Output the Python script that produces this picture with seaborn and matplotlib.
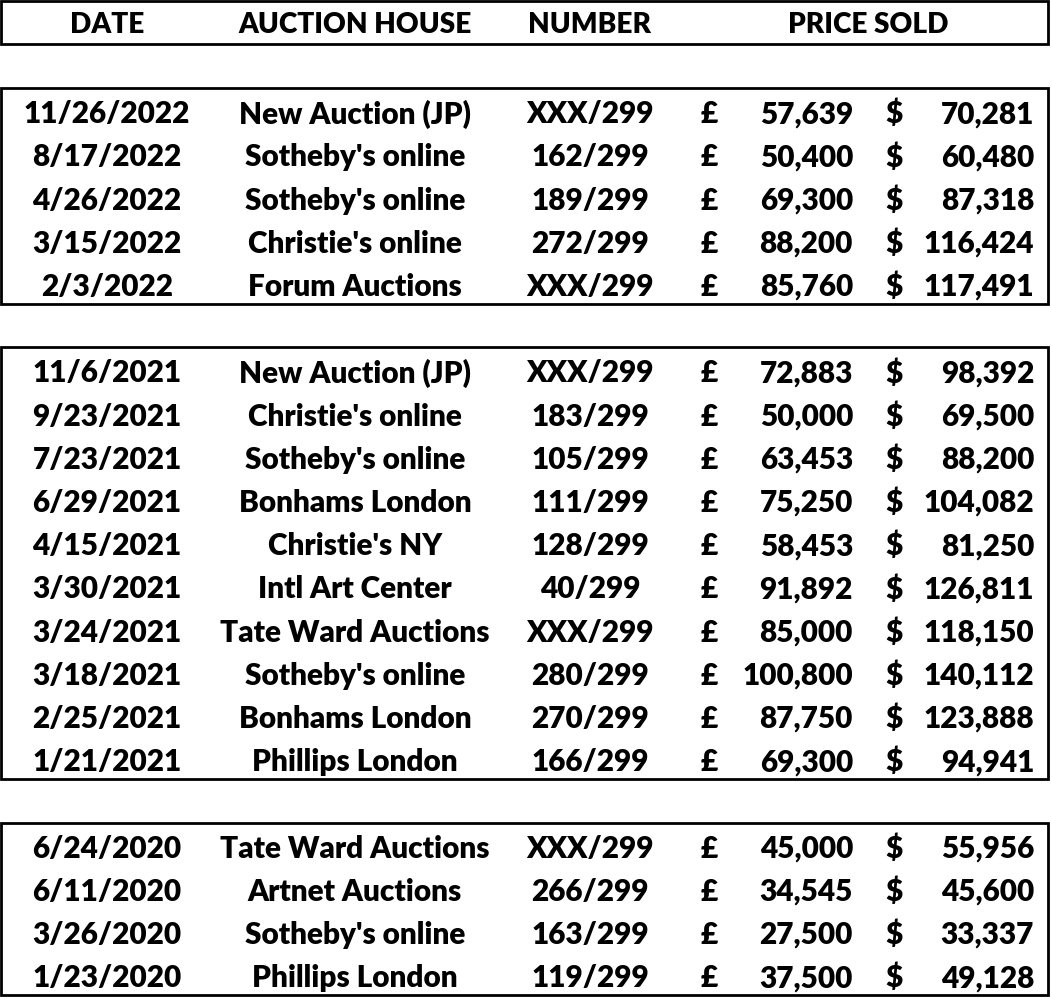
import matplotlib
matplotlib.use("Agg")
import matplotlib.pyplot as plt
import seaborn as sns
import pandas as pd
from matplotlib.patches import Rectangle

# table data, newest first, grouped by year
dates = ["11/26/2022", "8/17/2022", "4/26/2022", "3/15/2022", "2/3/2022",
         "11/6/2021", "9/23/2021", "7/23/2021", "6/29/2021", "4/15/2021",
         "3/30/2021", "3/24/2021", "3/18/2021", "2/25/2021", "1/21/2021",
         "6/24/2020", "6/11/2020", "3/26/2020", "1/23/2020"]
houses = ["New Auction (JP)", "Sotheby's online", "Sotheby's online", "Christie's online", "Forum Auctions",
          "New Auction (JP)", "Christie's online", "Sotheby's online", "Bonhams London", "Christie's NY",
          "Intl Art Center", "Tate Ward Auctions", "Sotheby's online", "Bonhams London", "Phillips London",
          "Tate Ward Auctions", "Artnet Auctions", "Sotheby's online", "Phillips London"]
numbers = ["XXX/299", "162/299", "189/299", "272/299", "XXX/299",
           "XXX/299", "183/299", "105/299", "111/299", "128/299",
           "40/299", "XXX/299", "280/299", "270/299", "166/299",
           "XXX/299", "266/299", "163/299", "119/299"]
gbp = [57639, 50400, 69300, 88200, 85760,
       72883, 50000, 63453, 75250, 58453,
       91892, 85000, 100800, 87750, 69300,
       45000, 34545, 27500, 37500]
usd = [70281, 60480, 87318, 116424, 117491,
       98392, 69500, 88200, 104082, 81250,
       126811, 118150, 140112, 123888, 94941,
       55956, 45600, 33337, 49128]
years = [2022] * 5 + [2021] * 10 + [2020] * 4
headers = ["DATE", "AUCTION HOUSE", "NUMBER", "PRICE SOLD"]

df = pd.DataFrame({"date": dates, "house": houses, "number": numbers,
                   "gbp": gbp, "usd": usd, "year": years})
# leave one blank row between year groups
df["row"] = df.index + (df["year"] != 2022).astype(int) + (df["year"] == 2020).astype(int)

sns.set_theme(style="white")
plt.rcParams["font.family"] = ["Lato", "DejaVu Sans"]

fig = plt.figure(figsize=(10.52, 9.98), dpi=100)
ax = fig.add_axes([0, 0, 1, 1])
ax.set_xlim(0, 1052)
ax.set_ylim(20.51, -2.593)
ax.set_axis_off()

kw = dict(fontsize=21.4, fontweight="heavy", color="black", va="center")
hkw = dict(kw, fontsize=20.2)
dy = 0.05  # small nudge so glyphs sit where Excel put them

# header
hy = -2.07
for label, x in zip(headers, [107, 355, 590, 868]):
    ax.text(x, hy + dy, label, ha="center", **hkw)
ax.add_patch(Rectangle((1, hy - 0.5), 1047, 1.0, fill=False, lw=2, ec="black"))

for _, r in df.iterrows():
    y = r["row"] + dy
    ax.text(107, y, r["date"], ha="center", **kw)
    ax.text(355, y, r["house"], ha="center", **kw)
    ax.text(590, y, r["number"], ha="center", **kw)
    ax.text(709, y, "£", ha="center", **kw)
    ax.text(853, y, f"{r['gbp']:,}", ha="right", **kw)
    ax.text(894, y, "$", ha="center", **kw)
    ax.text(1034, y, f"{r['usd']:,}", ha="right", **kw)

# one box per year group
for yr, g in df.groupby("year"):
    top = g["row"].min() - 0.55
    bottom = g["row"].max() + 0.45
    ax.add_patch(Rectangle((1, top), 1047, bottom - top, fill=False, lw=2, ec="black"))

fig.savefig("out.png", dpi=100)
